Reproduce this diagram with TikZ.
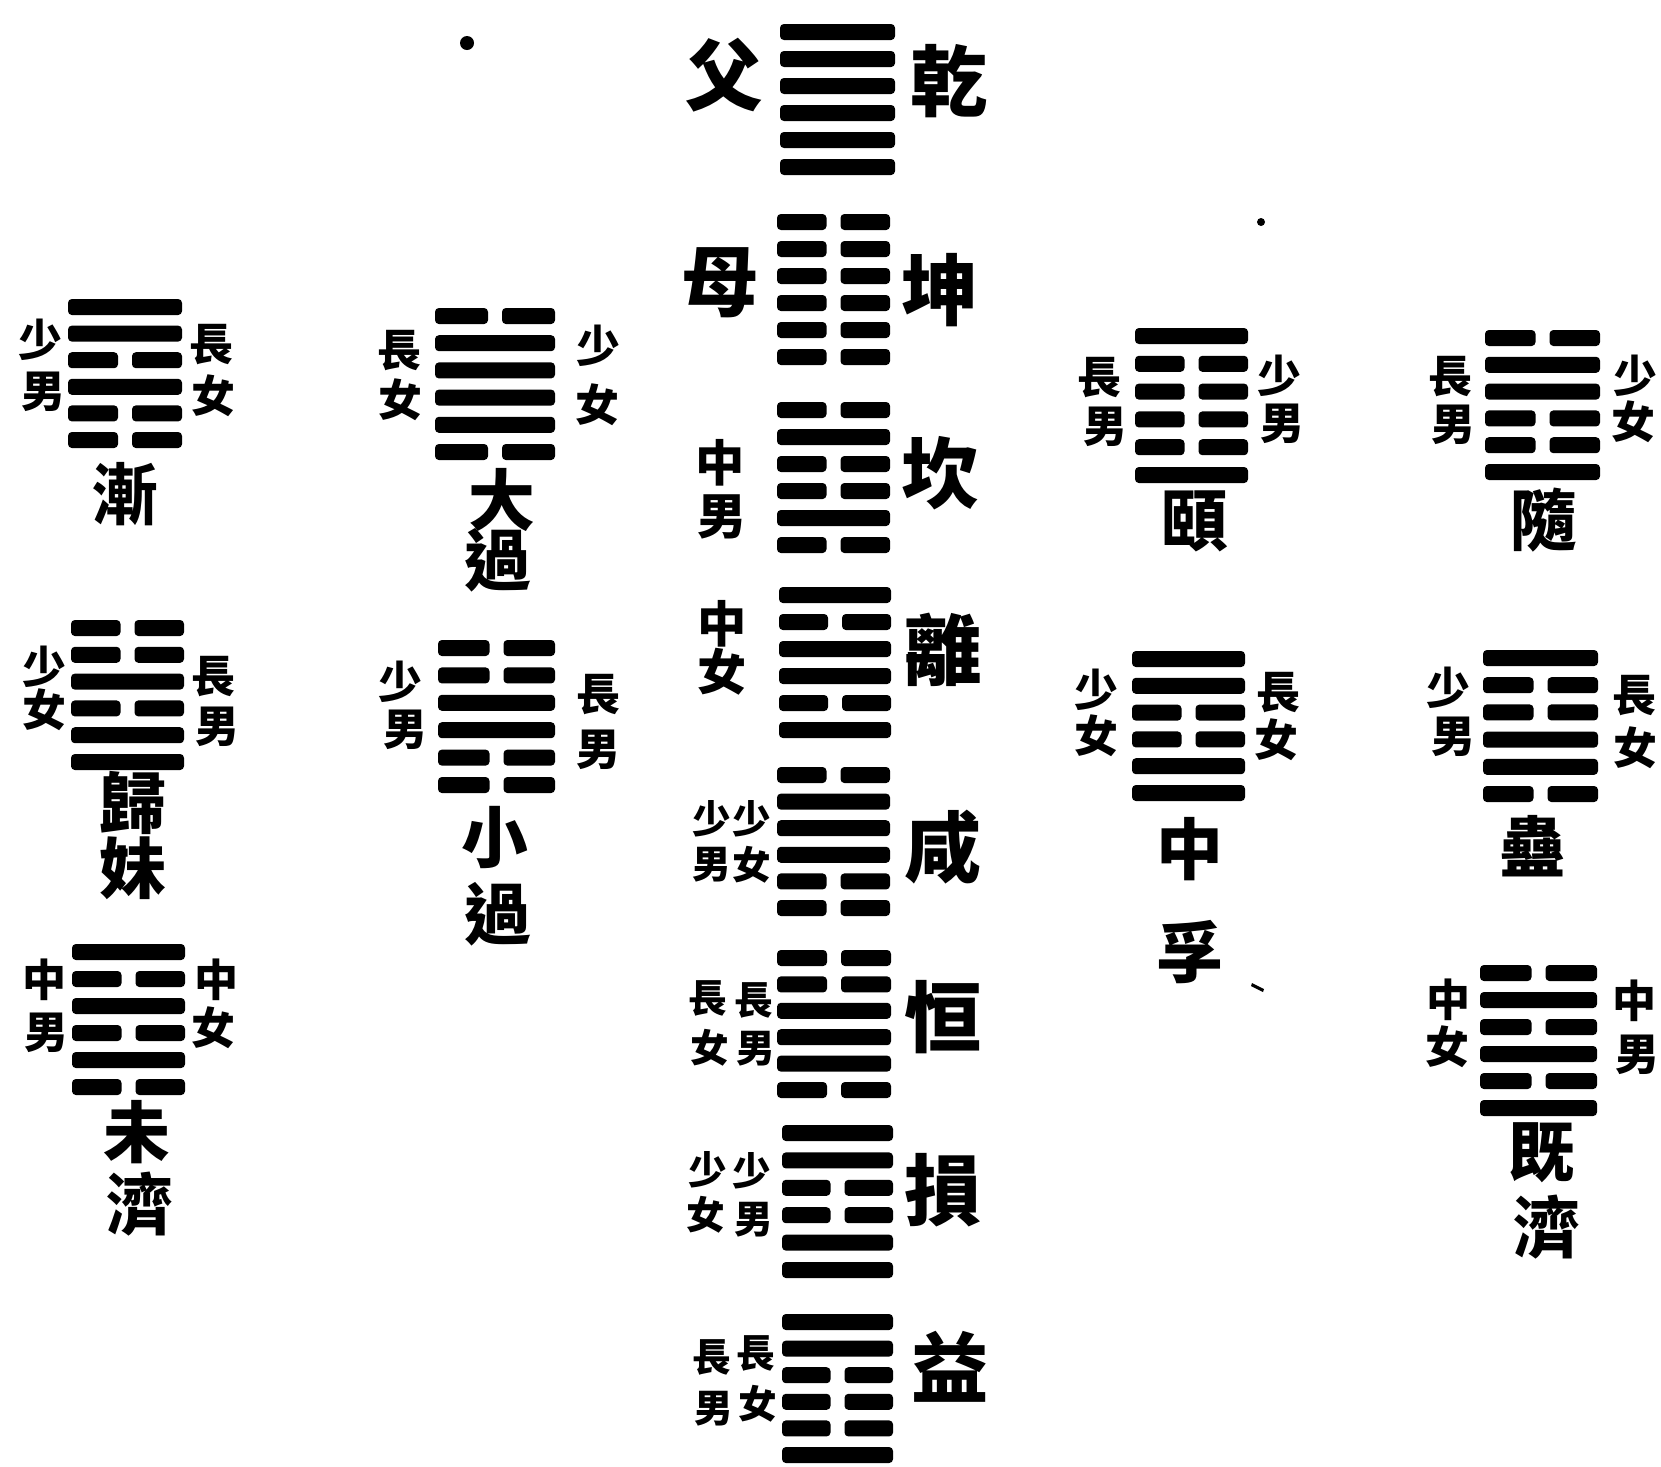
\documentclass[tikz,border=0pt]{standalone}
\usepackage{fontspec}
\newfontfamily\cjk{Noto Sans CJK TC}
\tikzset{
  yao/.style={fill=black, rounded corners=1.1pt},
  big/.style={font=\cjk\bfseries\fontsize{22pt}{22pt}\selectfont, inner sep=0pt},
  gname/.style={font=\cjk\bfseries\fontsize{19pt}{19pt}\selectfont, inner sep=0pt},
  midlab/.style={font=\cjk\bfseries\fontsize{14pt}{14pt}\selectfont, inner sep=0pt},
  lab/.style={font=\cjk\bfseries\fontsize{12.5pt}{12.5pt}\selectfont, inner sep=0pt},
  clab/.style={font=\cjk\bfseries\fontsize{11pt}{11pt}\selectfont, inner sep=0pt},
  speck/.style={fill=black}
}
% #1 left x, #2 right x, #3 centre y of top line, #4 spacing, #5 bits (top to bottom)
\newcommand\gua[5]{%
  \pgfmathsetmacro\gxm{(#1+#2)/2}%
  \foreach \yb [count=\yi from 0] in {#5}{%
    \pgfmathsetmacro\gyc{#3+\yi*#4}%
    \ifnum\yb=1
      \fill[yao] (#1,\gyc-8) rectangle (#2,\gyc+8);
    \else
      \fill[yao] (#1,\gyc-8) rectangle (\gxm-7,\gyc+8);
      \fill[yao] (\gxm+7,\gyc-8) rectangle (#2,\gyc+8);
    \fi
  }%
}
\begin{document}
\begin{tikzpicture}[x=0.01cm,y=-0.01cm]
\useasboundingbox (0,0) rectangle (1661,1466);
\fill[white] (0,0) rectangle (1661,1466);

% ---------- central column ----------
\gua{780}{895}{32}{27}{1,1,1,1,1,1}
\gua{777}{890}{222}{27}{0,0,0,0,0,0}
\gua{777}{890}{410}{27}{0,1,0,0,1,0}
\gua{779}{891}{595}{27}{1,0,1,1,0,1}
\gua{777}{890}{775}{26.6}{0,1,1,1,0,0}
\gua{777}{891}{958}{26.4}{0,0,1,1,1,0}
\gua{782}{893}{1133}{27.4}{1,1,0,0,1,1}
\gua{782}{893}{1322}{26.6}{1,1,0,0,0,1}

\node[big] (fu) at (724,75) {父};
\node[big] (qian) at (949,81) {乾};
\node[big] (mu) at (720,283) {母};
\node[big] (kun) at (940,290) {坤};
\node[midlab] (kanA) at (720,463) {中};
\node[midlab] (kanB) at (722,517) {男};
\node[big] (kan) at (940,473) {坎};
\node[midlab] (liA) at (722,624) {中};
\node[midlab] (liB) at (722,672) {女};
\node[big] (li) at (943,650) {離};
\node[clab] (xianA) at (712,819) {少};
\node[clab] (xianB) at (712,865) {男};
\node[clab] (xianC) at (752,819) {少};
\node[clab] (xianD) at (752,865) {女};
\node[big] (xian) at (943,847) {咸};
\node[clab] (hengA) at (708,998) {長};
\node[clab] (hengB) at (710,1048) {女};
\node[clab] (hengC) at (754,1000) {長};
\node[clab] (hengD) at (756,1049) {男};
\node[big] (heng) at (943,1017) {恒};
\node[clab] (sunA) at (708,1170) {少};
\node[clab] (sunB) at (706,1215) {女};
\node[clab] (sunC) at (752,1171) {少};
\node[clab] (sunD) at (754,1220) {男};
\node[big] (sun) at (943,1190) {損};
\node[clab] (yiA) at (712,1357) {長};
\node[clab] (yiB) at (714,1409) {男};
\node[clab] (yiC) at (756,1353) {長};
\node[clab] (yiD) at (758,1404) {女};
\node[big] (yi) at (950,1367) {益};

% ---------- left column ----------
\gua{68}{182}{307}{26.6}{1,1,0,1,0,0}
\node[lab] (jianA) at (40,340) {少};
\node[lab] (jianB) at (43,392) {男};
\node[lab] (jianC) at (211,345) {長};
\node[lab] (jianD) at (213,396) {女};
\node[gname] (jian) at (125,494) {漸};

\gua{71}{184}{628}{26.8}{0,0,1,0,1,1}
\node[lab] (gmA) at (44,667) {少};
\node[lab] (gmB) at (44,710) {女};
\node[lab] (gmC) at (213,677) {長};
\node[lab] (gmD) at (217,727) {男};
\node[gname] (gmA2) at (133,803) {歸};
\node[gname] (gmB2) at (133,868) {妹};

\gua{72}{185}{952}{27}{1,0,1,0,1,0}
\node[lab] (wjA) at (44,980) {中};
\node[lab] (wjB) at (46,1033) {男};
\node[lab] (wjC) at (216,980) {中};
\node[lab] (wjD) at (213,1028) {女};
\node[gname] (wjA2) at (137,1132) {未};
\node[gname] (wjB2) at (140,1204) {濟};

% ---------- second column ----------
\gua{435}{555}{316}{27.2}{0,1,1,1,1,0}
\node[lab] (dgA) at (399,351) {長};
\node[lab] (dgB) at (400,400) {女};
\node[lab] (dgC) at (598,346) {少};
\node[lab] (dgD) at (597,405) {女};
\node[gname] (dgA2) at (502,500) {大};
\node[gname] (dgB2) at (498,560) {過};

\gua{438}{555}{648}{27.4}{0,0,1,1,0,0}
\node[lab] (xgA) at (400,682) {少};
\node[lab] (xgB) at (405,730) {男};
\node[lab] (xgC) at (598,695) {長};
\node[lab] (xgD) at (598,750) {男};
\node[gname] (xgA2) at (495,838) {小};
\node[gname] (xgB2) at (498,914) {過};

% ---------- fourth column ----------
\gua{1135}{1248}{336}{27.8}{1,0,0,0,0,1}
\node[lab] (yiiA) at (1099,378) {長};
\node[lab] (yiiB) at (1105,427) {男};
\node[lab] (yiiC) at (1279,376) {少};
\node[lab] (yiiD) at (1282,424) {男};
\node[gname] (yii) at (1195,521) {頤};

\gua{1132}{1245}{659}{26.8}{1,1,0,0,1,1}
\node[lab] (zfA) at (1096,690) {少};
\node[lab] (zfB) at (1096,736) {女};
\node[lab] (zfC) at (1278,693) {長};
\node[lab] (zfD) at (1276,740) {女};
\node[gname] (zfA2) at (1190,849) {中};
\node[gname] (zfB2) at (1190,952) {孚};

% ---------- fifth column ----------
\gua{1485}{1600}{338}{26.8}{0,1,1,0,0,1}
\node[lab] (suiA) at (1450,377) {長};
\node[lab] (suiB) at (1453,425) {男};
\node[lab] (suiC) at (1635,376) {少};
\node[lab] (suiD) at (1633,422) {女};
\node[gname] (sui) at (1544,520) {隨};

\gua{1483}{1598}{658}{27.2}{1,0,0,1,1,0}
\node[lab] (guA) at (1448,688) {少};
\node[lab] (guB) at (1453,737) {男};
\node[lab] (guC) at (1634,696) {長};
\node[lab] (guD) at (1635,748) {女};
\node[gname] (gu) at (1533,846) {蠱};

\gua{1480}{1597}{973}{27}{0,1,0,1,0,1}
\node[lab] (jjA) at (1448,1000) {中};
\node[lab] (jjB) at (1447,1047) {女};
\node[lab] (jjC) at (1634,1001) {中};
\node[lab] (jjD) at (1637,1055) {男};
\node[gname] (jjA2) at (1542,1153) {既};
\node[gname] (jjB2) at (1547,1227) {濟};

% ---------- stray specks of the print ----------
\fill[speck] (467,43) circle (7);
\fill[speck] (1261,222) circle (4);
\fill[speck] (1252,983) -- (1264,989) -- (1263,992) -- (1251,986) -- cycle;
\end{tikzpicture}
\end{document}
